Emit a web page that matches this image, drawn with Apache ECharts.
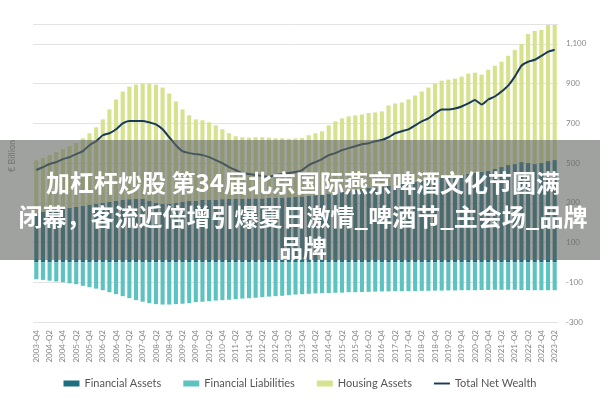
<!DOCTYPE html>
<html><head><meta charset="utf-8">
<script src="https://cdn.jsdelivr.net/npm/echarts@6/dist/echarts.min.js"></script>
<style>html,body{margin:0;padding:0;background:#fff}#c{width:600px;height:400px}</style>
</head><body><div id="c"></div>
<script>
const categories = [];
for (let y = 2003; y <= 2023; y++) for (let q = 1; q <= 4; q++) {
  if ((y === 2003 && q < 4) || (y === 2023 && q > 2)) continue;
  categories.push(y + '-Q' + q);
}
const financialAssets = [250,255,260,265,270,275,280,285,290,295,300,305,310,315,318,320,320,
 310,300,295,295,300,305,310,310,315,315,315,318,320,320,320,322,322,
 322,325,325,326,328,330,332,
 335,338,340,345,350,355,360,365,370,375,378,380,385,390,395,400,405,410,
 415,420,425,430,435,440,445,450,455,460,470,480,490,495,505,500,495,500,510,515];
const financialLiabilities = [-85,-88,-92,-96,-100,-105,-110,-118,-125,-132,-140,-150,-160,-170,-180,-190,-198,
 -205,-210,-212,-212,-210,-208,-205,-200,-198,-195,-192,-190,-188,-185,-182,-180,-178,
 -175,-172,-170,-168,-165,-162,-160,
 -158,-156,-155,-154,-153,-152,-150,-150,-149,-148,-147,-146,-146,-145,-145,-144,-144,-143,
 -143,-142,-142,-141,-141,-140,-140,-140,-139,-139,-138,-138,-138,-138,-139,-140,-140,-140,-140,-140];
const housingAssets = [263,270,280,290,300,310,320,340,360,385,420,465,510,545,567,575,580,
 590,595,585,555,510,465,430,410,400,390,375,352,330,315,310,306,308,
 308,303,300,299,294,294,294,
 305,312,320,345,360,370,375,375,375,377,377,380,405,410,410,420,435,450,
 465,480,490,490,490,495,505,505,490,510,520,530,550,575,595,650,670,670,685,680];
const totalNetWealth = [465,480,495,505,520,530,545,560,590,610,640,650,670,700,712,712,712,
 705,695,670,630,590,560,550,545,540,530,515,500,480,465,450,445,440,
 435,430,440,445,450,455,465,
 490,505,520,540,550,565,575,585,595,600,610,616,630,650,660,670,690,710,
 725,750,770,770,775,785,800,818,795,820,835,860,890,935,990,1010,1020,1040,1060,1070];
const yTicks = [-300,-100,100,300,500,700,900,1100];

const chart = echarts.init(document.getElementById('c'));
chart.setOption({
  animation:false,
  grid:{left:33,right:42,top:24,bottom:78},
  legend:{bottom:6,left:'center',itemGap:22,itemWidth:16,itemHeight:6,
    textStyle:{color:'#555',fontSize:11,fontFamily:'Lato'},
    data:[{name:'Financial Assets',icon:'rect'},{name:'Financial Liabilities',icon:'rect'},{name:'Housing Assets',icon:'rect'},
      {name:'Total Net Wealth',icon:'path://M0,0H20V2.4H0Z'}]},
  xAxis:{type:'category',data:categories,
    axisLine:{show:false},axisTick:{show:false},
    axisLabel:{rotate:90,interval:1,fontSize:8,color:'#888',fontFamily:'Lato',margin:8}},
  yAxis:{type:'value',position:'right',min:-300,max:1200,interval:200,
    axisLine:{show:false},axisTick:{show:false},
    splitLine:{lineStyle:{color:'#e3e3e3'}},
    axisLabel:{fontSize:8,color:'#888',fontFamily:'Lato',
      formatter:v=>yTicks.includes(v)?v.toLocaleString('en-US'):''}},
  series:[
    {name:'Financial Assets',type:'bar',stack:'a',data:financialAssets,itemStyle:{color:'#1f6e80'},barCategoryGap:'38%'},
    {name:'Financial Liabilities',type:'bar',stack:'a',data:financialLiabilities,itemStyle:{color:'#5cc3c0'}},
    {name:'Housing Assets',type:'bar',stack:'a',data:housingAssets,itemStyle:{color:'#d6e28e'}},
    {name:'Total Net Wealth',type:'line',data:totalNetWealth,symbol:'none',smooth:0.2,
      lineStyle:{color:'#1b3a57',width:2},itemStyle:{color:'#1b3a57'}}
  ],
  graphic:[
    {type:'text',left:8,top:140,rotation:Math.PI/2,style:{text:'€ Billion',fill:'#888',fontSize:9,fontFamily:'Lato'}},
    {type:'rect',shape:{x:0,y:140,width:600,height:120},style:{fill:'rgba(100,105,100,0.62)'},z:100},
    {type:'text',x:303,y:183,z:101,style:{text:'加杠杆炒股 第34届北京国际燕京啤酒文化节圆满',fill:'#fff',fontSize:24,fontWeight:'bold',
      fontFamily:'Noto Sans CJK SC',align:'center',verticalAlign:'middle'}},
    {type:'text',x:303,y:217,z:101,style:{text:'闭幕，客流近倍增引爆夏日激情_啤酒节_主会场_品牌',fill:'#fff',fontSize:24,fontWeight:'bold',
      fontFamily:'Noto Sans CJK SC',align:'center',verticalAlign:'middle'}},
    {type:'text',x:303,y:248,z:101,style:{text:'品牌',fill:'#fff',fontSize:24,fontWeight:'bold',
      fontFamily:'Noto Sans CJK SC',align:'center',verticalAlign:'middle'}}
  ]
});
</script></body></html>
